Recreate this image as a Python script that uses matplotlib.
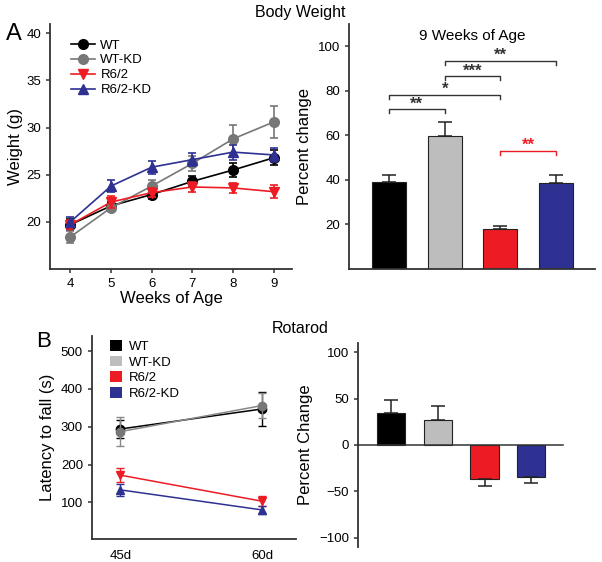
import matplotlib
matplotlib.use("Agg")
import matplotlib.pyplot as plt
from matplotlib.lines import Line2D
from matplotlib.patches import Patch
import numpy as np

plt.rcParams['font.family'] = ['Liberation Sans', 'DejaVu Sans']

# ---- Data ----
groups = ["WT", "WT-KD", "R6/2", "R6/2-KD"]
colors = ["#000000", "#777777", "#ed1c24", "#2e3192"]
bar_colors = ["#000000", "#bdbdbd", "#ed1c24", "#2e3192"]

weeks = [4, 5, 6, 7, 8, 9]
wt_weight = [19.7, 21.7, 22.9, 24.3, 25.5, 26.8]
wt_weight_err = [0.6, 0.4, 0.5, 0.6, 0.7, 0.8]
wtkd_weight = [18.4, 21.5, 23.8, 26.2, 28.8, 30.6]
wtkd_weight_err = [0.6, 0.4, 0.6, 0.8, 1.5, 1.7]
r62_weight = [19.7, 22.1, 23.1, 23.7, 23.6, 23.2]
r62_weight_err = [0.5, 0.6, 0.5, 0.5, 0.5, 0.7]
r62kd_weight = [20.0, 23.8, 25.8, 26.6, 27.4, 27.1]
r62kd_weight_err = [0.5, 0.6, 0.7, 0.7, 0.8, 0.7]

pct9 = [39.2, 59.8, 17.8, 38.8]
pct9_err = [3.2, 6.0, 1.5, 3.5]
# significance brackets
sig_i = [0, 0, 1, 1, 2]
sig_j = [1, 2, 2, 3, 3]
sig_y = [71.6, 78.1, 86.5, 93.4, 53.0]
sig_lab = ["**", "*", "***", "**", "**"]
sig_col = ["#333333", "#333333", "#333333", "#333333", "#ed1c24"]

days = ["45d", "60d"]
wt_rot = [294, 347]
wt_rot_err = [25, 45]
wtkd_rot = [287, 356]
wtkd_rot_err = [38, 34]
r62_rot = [172, 103]
r62_rot_err = [19, 13]
r62kd_rot = [133, 80]
r62kd_rot_err = [15, 10]

rot_pct = [35.0, 26.5, -36.5, -34.0]
rot_pct_err = [14.0, 16.0, 8.0, 6.5]

# ---- Figure ----
fig = plt.figure(figsize=(6.02, 5.62), dpi=100)
spine_col = "#333333"

def style(ax):
    for s in ["top", "right"]:
        ax.spines[s].set_visible(False)
    for s in ["left", "bottom"]:
        ax.spines[s].set_linewidth(1.3)
        ax.spines[s].set_color(spine_col)
    ax.tick_params(labelsize=9.5, width=1.1, length=3, color=spine_col)

# Panel A left
ax1 = fig.add_axes([0.0831, 0.5214, 0.402, 0.436])
style(ax1)
markers = ["o", "o", "v", "^"]
series = [(wt_weight, wt_weight_err), (wtkd_weight, wtkd_weight_err),
          (r62_weight, r62_weight_err), (r62kd_weight, r62kd_weight_err)]
for k in [1, 0, 2, 3]:
    y, e = series[k]
    ax1.errorbar(weeks, y, yerr=e, color=colors[k], marker=markers[k],
                 markersize=7, lw=1.2, capsize=3, elinewidth=1.2,
                 capthick=1.2, zorder=3 + k)
ax1.set_xlim(3.5, 9.45)
ax1.set_ylim(15, 41)
ax1.set_xticks(weeks)
ax1.set_yticks([20, 25, 30, 35, 40])
ax1.set_xlabel("Weeks of Age", fontsize=12, labelpad=1)
ax1.set_ylabel("Weight (g)", fontsize=12, labelpad=2)
leg_handles = [Line2D([], [], color=colors[k], marker=markers[k], markersize=7,
                      lw=1.2) for k in range(4)]
ax1.legend(leg_handles, groups, loc="upper left",
           bbox_to_anchor=(0.05, 0.975), frameon=False, fontsize=9.5,
           handlelength=1.8, handletextpad=0.4, labelspacing=0.2,
           borderaxespad=0.3)

# Panel A right
ax2 = fig.add_axes([0.5797, 0.5214, 0.4086, 0.436])
style(ax2)
x = np.arange(4)
ax2.bar(x, pct9, width=0.61, color=bar_colors, edgecolor="#222222", linewidth=0.8,
        yerr=[np.zeros(4), pct9_err], capsize=5,
        error_kw=dict(ecolor="#222222", elinewidth=1.1, capthick=1.1))
ax2.set_xlim(-0.72, 3.70)
ax2.set_ylim(0, 110)
ax2.set_yticks([20, 40, 60, 80, 100])
ax2.set_xticks([])
ax2.set_ylabel("Percent change", fontsize=12, labelpad=4)
ax2.text(1.5, 104.5, "9 Weeks of Age", ha="center", va="center", fontsize=11)
for i, j, yy, lab, c in zip(sig_i, sig_j, sig_y, sig_lab, sig_col):
    ax2.plot([i, i, j, j], [yy - 1.8, yy, yy, yy - 1.8], color=c, lw=1.0)
    ax2.text((i + j) / 2, yy - 1.0, lab, ha="center", va="bottom",
             fontsize=12, color=c, fontweight="bold")

# Panel B left
ax3 = fig.add_axes([0.1528, 0.0409, 0.3389, 0.3612])
style(ax3)
xd = [0, 1]
rot_series = [(wt_rot, wt_rot_err), (wtkd_rot, wtkd_rot_err),
              (r62_rot, r62_rot_err), (r62kd_rot, r62kd_rot_err)]
rot_line_cols = ["#000000", "#888888", "#ed1c24", "#2e3192"]
rot_mk_cols = ["#000000", "#777777", "#ed1c24", "#2e3192"]
for k in [0, 1, 2, 3]:
    y, e = rot_series[k]
    ax3.errorbar(xd, y, yerr=e, color=rot_line_cols[k], marker=markers[k],
                 mfc=rot_mk_cols[k], mec=rot_mk_cols[k], markersize=6,
                 lw=1.1, capsize=3, elinewidth=1.0, capthick=1.0, zorder=3 + k)
ax3.set_xlim(-0.2, 1.24)
ax3.set_ylim(3, 540)
ax3.set_yticks([100, 200, 300, 400, 500])
ax3.set_xticks(xd)
ax3.set_xticklabels(days)
ax3.tick_params(axis="x", length=0, pad=8)
ax3.set_ylabel("Latency to fall (s)", fontsize=12, labelpad=4)
ax3.legend([Patch(facecolor=c) for c in bar_colors], groups, loc="upper left",
           bbox_to_anchor=(0.05, 1.02), frameon=False, fontsize=9.5,
           handlelength=0.9, handleheight=0.9, handletextpad=0.5,
           labelspacing=0.2, borderaxespad=0.2)

# Panel B right
ax4 = fig.add_axes([0.5947, 0.0267, 0.3405, 0.363])
style(ax4)
ax4.bar(x, rot_pct, width=0.61, color=bar_colors, edgecolor="#222222", linewidth=0.8)
err_lo = [0 if v > 0 else e for v, e in zip(rot_pct, rot_pct_err)]
err_hi = [e if v > 0 else 0 for v, e in zip(rot_pct, rot_pct_err)]
ax4.errorbar(x, rot_pct, yerr=[err_lo, err_hi], fmt="none", ecolor="#222222",
             elinewidth=1.1, capsize=5, capthick=1.1)
ax4.set_xlim(-0.71, 3.68)
ax4.set_ylim(-110, 110)
ax4.set_yticks([-100, -50, 0, 50, 100])
ax4.spines["bottom"].set_position(("data", 0))
ax4.spines["bottom"].set_linewidth(1.1)
ax4.set_xticks([])
ax4.set_ylabel("Percent Change", fontsize=12, labelpad=4)

# Titles and panel letters
fig.text(0.498, 0.977, "Body Weight", ha="center", va="center", fontsize=11.5)
fig.text(0.498, 0.415, "Rotarod", ha="center", va="center", fontsize=11.5)
fig.text(0.01, 0.94, "A", ha="left", va="center", fontsize=17)
fig.text(0.06, 0.392, "B", ha="left", va="center", fontsize=16)

fig.savefig("out.png", dpi=100)
